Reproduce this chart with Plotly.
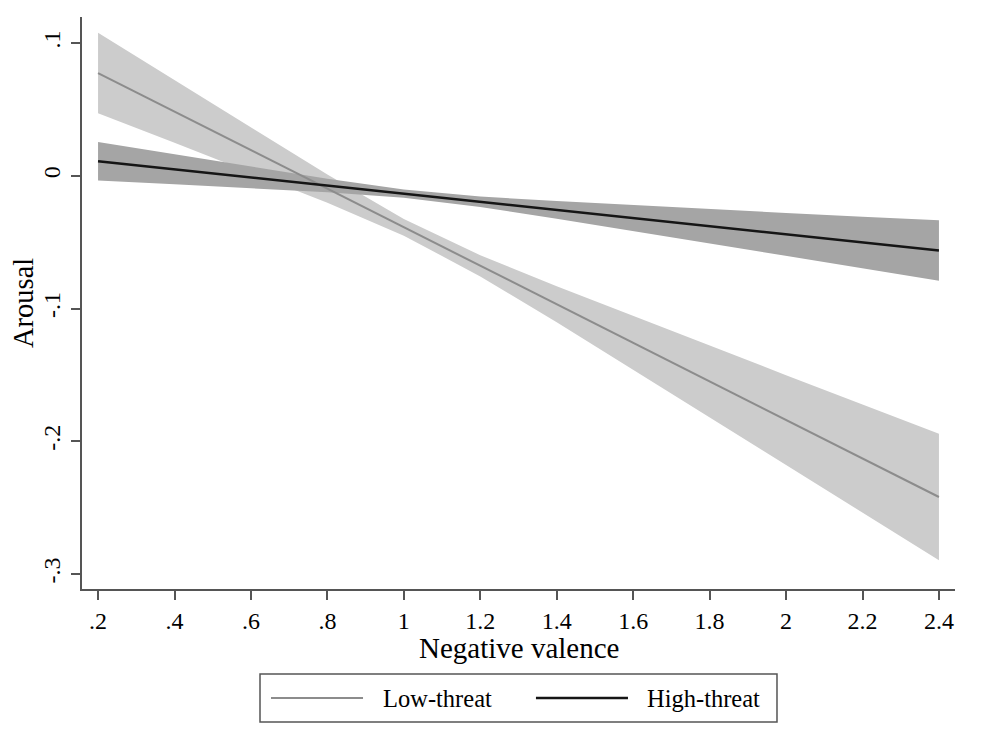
import plotly.graph_objects as go

# ---- data ----
x_vals = [0.2, 0.4, 0.6, 0.8, 1.0, 1.2, 1.4, 1.6, 1.8, 2.0, 2.2, 2.4]

low_mean = [0.0774, 0.0484, 0.0193, -0.0097, -0.0388, -0.0678, -0.0968, -0.1259, -0.1549, -0.1840, -0.2130, -0.2420]
low_hi = [0.1077, 0.0719, 0.0362, 0.0009, -0.0325, -0.0598, -0.0832, -0.1057, -0.1280, -0.1502, -0.1723, -0.1944]
low_lo = [0.0471, 0.0249, 0.0024, -0.0203, -0.0451, -0.0758, -0.1104, -0.1461, -0.1818, -0.2178, -0.2537, -0.2896]

high_mean = [0.0110, 0.0049, -0.0012, -0.0074, -0.0135, -0.0196, -0.0257, -0.0318, -0.0380, -0.0441, -0.0502, -0.0563]
high_hi = [0.0255, 0.0161, 0.0069, -0.0023, -0.0104, -0.0157, -0.0191, -0.0222, -0.0251, -0.0280, -0.0308, -0.0336]
high_lo = [-0.0035, -0.0063, -0.0093, -0.0125, -0.0166, -0.0235, -0.0323, -0.0414, -0.0509, -0.0602, -0.0696, -0.0790]

x_ticks = [0.2, 0.4, 0.6, 0.8, 1.0, 1.2, 1.4, 1.6, 1.8, 2.0, 2.2, 2.4]
x_ticktext = [".2", ".4", ".6", ".8", "1", "1.2", "1.4", "1.6", "1.8", "2", "2.2", "2.4"]
y_ticks = [-0.3, -0.2, -0.1, 0.0, 0.1]
y_ticktext = ["-.3", "-.2", "-.1", "0", ".1"]

series_names = ["Low-threat", "High-threat"]
x_title = "Negative valence"
y_title = "Arousal"

FONT = "Liberation Serif, Times New Roman, serif"
LOW_BAND = "#cccccc"
HIGH_BAND = "#a5a5a5"
LOW_LINE = "#8c8c8c"
HIGH_LINE = "#151515"
AXIS = "#555555"

fig = go.Figure()

# CI bands
fig.add_trace(go.Scatter(
    x=x_vals + x_vals[::-1], y=low_hi + low_lo[::-1],
    fill="toself", fillcolor=LOW_BAND, line=dict(width=0),
    mode="lines", hoverinfo="skip", showlegend=False))
fig.add_trace(go.Scatter(
    x=x_vals + x_vals[::-1], y=high_hi + high_lo[::-1],
    fill="toself", fillcolor=HIGH_BAND, line=dict(width=0),
    mode="lines", hoverinfo="skip", showlegend=False))

# point estimate lines
fig.add_trace(go.Scatter(x=x_vals, y=low_mean, mode="lines", name=series_names[0],
                         line=dict(color=LOW_LINE, width=2), showlegend=False))
fig.add_trace(go.Scatter(x=x_vals, y=high_mean, mode="lines", name=series_names[1],
                         line=dict(color=HIGH_LINE, width=2.5), showlegend=False))

# manual legend (box, samples, labels) in paper coords
fig.add_shape(type="rect", xref="paper", yref="paper",
              x0=0.2039, x1=0.7961, y0=-0.2325, y1=-0.1486,
              line=dict(color=AXIS, width=1.5), fillcolor="white")
fig.add_shape(type="line", xref="paper", yref="paper",
              x0=0.2165, x1=0.3219, y0=-0.1906, y1=-0.1906,
              line=dict(color=LOW_LINE, width=2))
fig.add_shape(type="line", xref="paper", yref="paper",
              x0=0.5200, x1=0.6254, y0=-0.1906, y1=-0.1906,
              line=dict(color=HIGH_LINE, width=2.5))
fig.add_annotation(xref="paper", yref="paper", x=0.3425, y=-0.1906,
                   text=series_names[0], showarrow=False, xanchor="left", yanchor="middle",
                   font=dict(family=FONT, size=24.5, color="black"))
fig.add_annotation(xref="paper", yref="paper", x=0.6449, y=-0.1906,
                   text=series_names[1], showarrow=False, xanchor="left", yanchor="middle",
                   font=dict(family=FONT, size=24.5, color="black"))

# axis titles
fig.add_annotation(xref="paper", yref="paper", x=0.5, y=-0.1035,
                   text=x_title, showarrow=False, xanchor="center", yanchor="middle",
                   font=dict(family=FONT, size=29, color="black"))
fig.add_annotation(xref="paper", yref="paper", x=-0.0676, y=0.5,
                   text=y_title, showarrow=False, xanchor="center", yanchor="middle",
                   textangle=-90, font=dict(family=FONT, size=28.5, color="black"))

fig.update_layout(
    width=983, height=731,
    margin=dict(l=74, r=36, t=9, b=150, autoexpand=False),
    paper_bgcolor="white", plot_bgcolor="white",
    font=dict(family=FONT, color="black"),
    showlegend=False,
)
fig.update_xaxes(
    range=[0.158, 2.442], tickvals=x_ticks, ticktext=x_ticktext,
    showgrid=False, zeroline=False, showline=True, linecolor=AXIS, linewidth=1.5,
    ticks="outside", ticklen=9, tickwidth=1.5, tickcolor=AXIS, automargin=False,
    tickfont=dict(family=FONT, size=24, color="black"),
)
fig.update_yaxes(
    range=[-0.3113, 0.1196], tickvals=y_ticks, ticktext=y_ticktext,
    showgrid=False, zeroline=False, showline=True, linecolor=AXIS, linewidth=1.5,
    ticks="outside", ticklen=9, tickwidth=1.5, tickcolor=AXIS, tickangle=-90,
    ticklabelstandoff=2, automargin=False,
    tickfont=dict(family=FONT, size=24, color="black"),
)

fig.write_html("out.html")
